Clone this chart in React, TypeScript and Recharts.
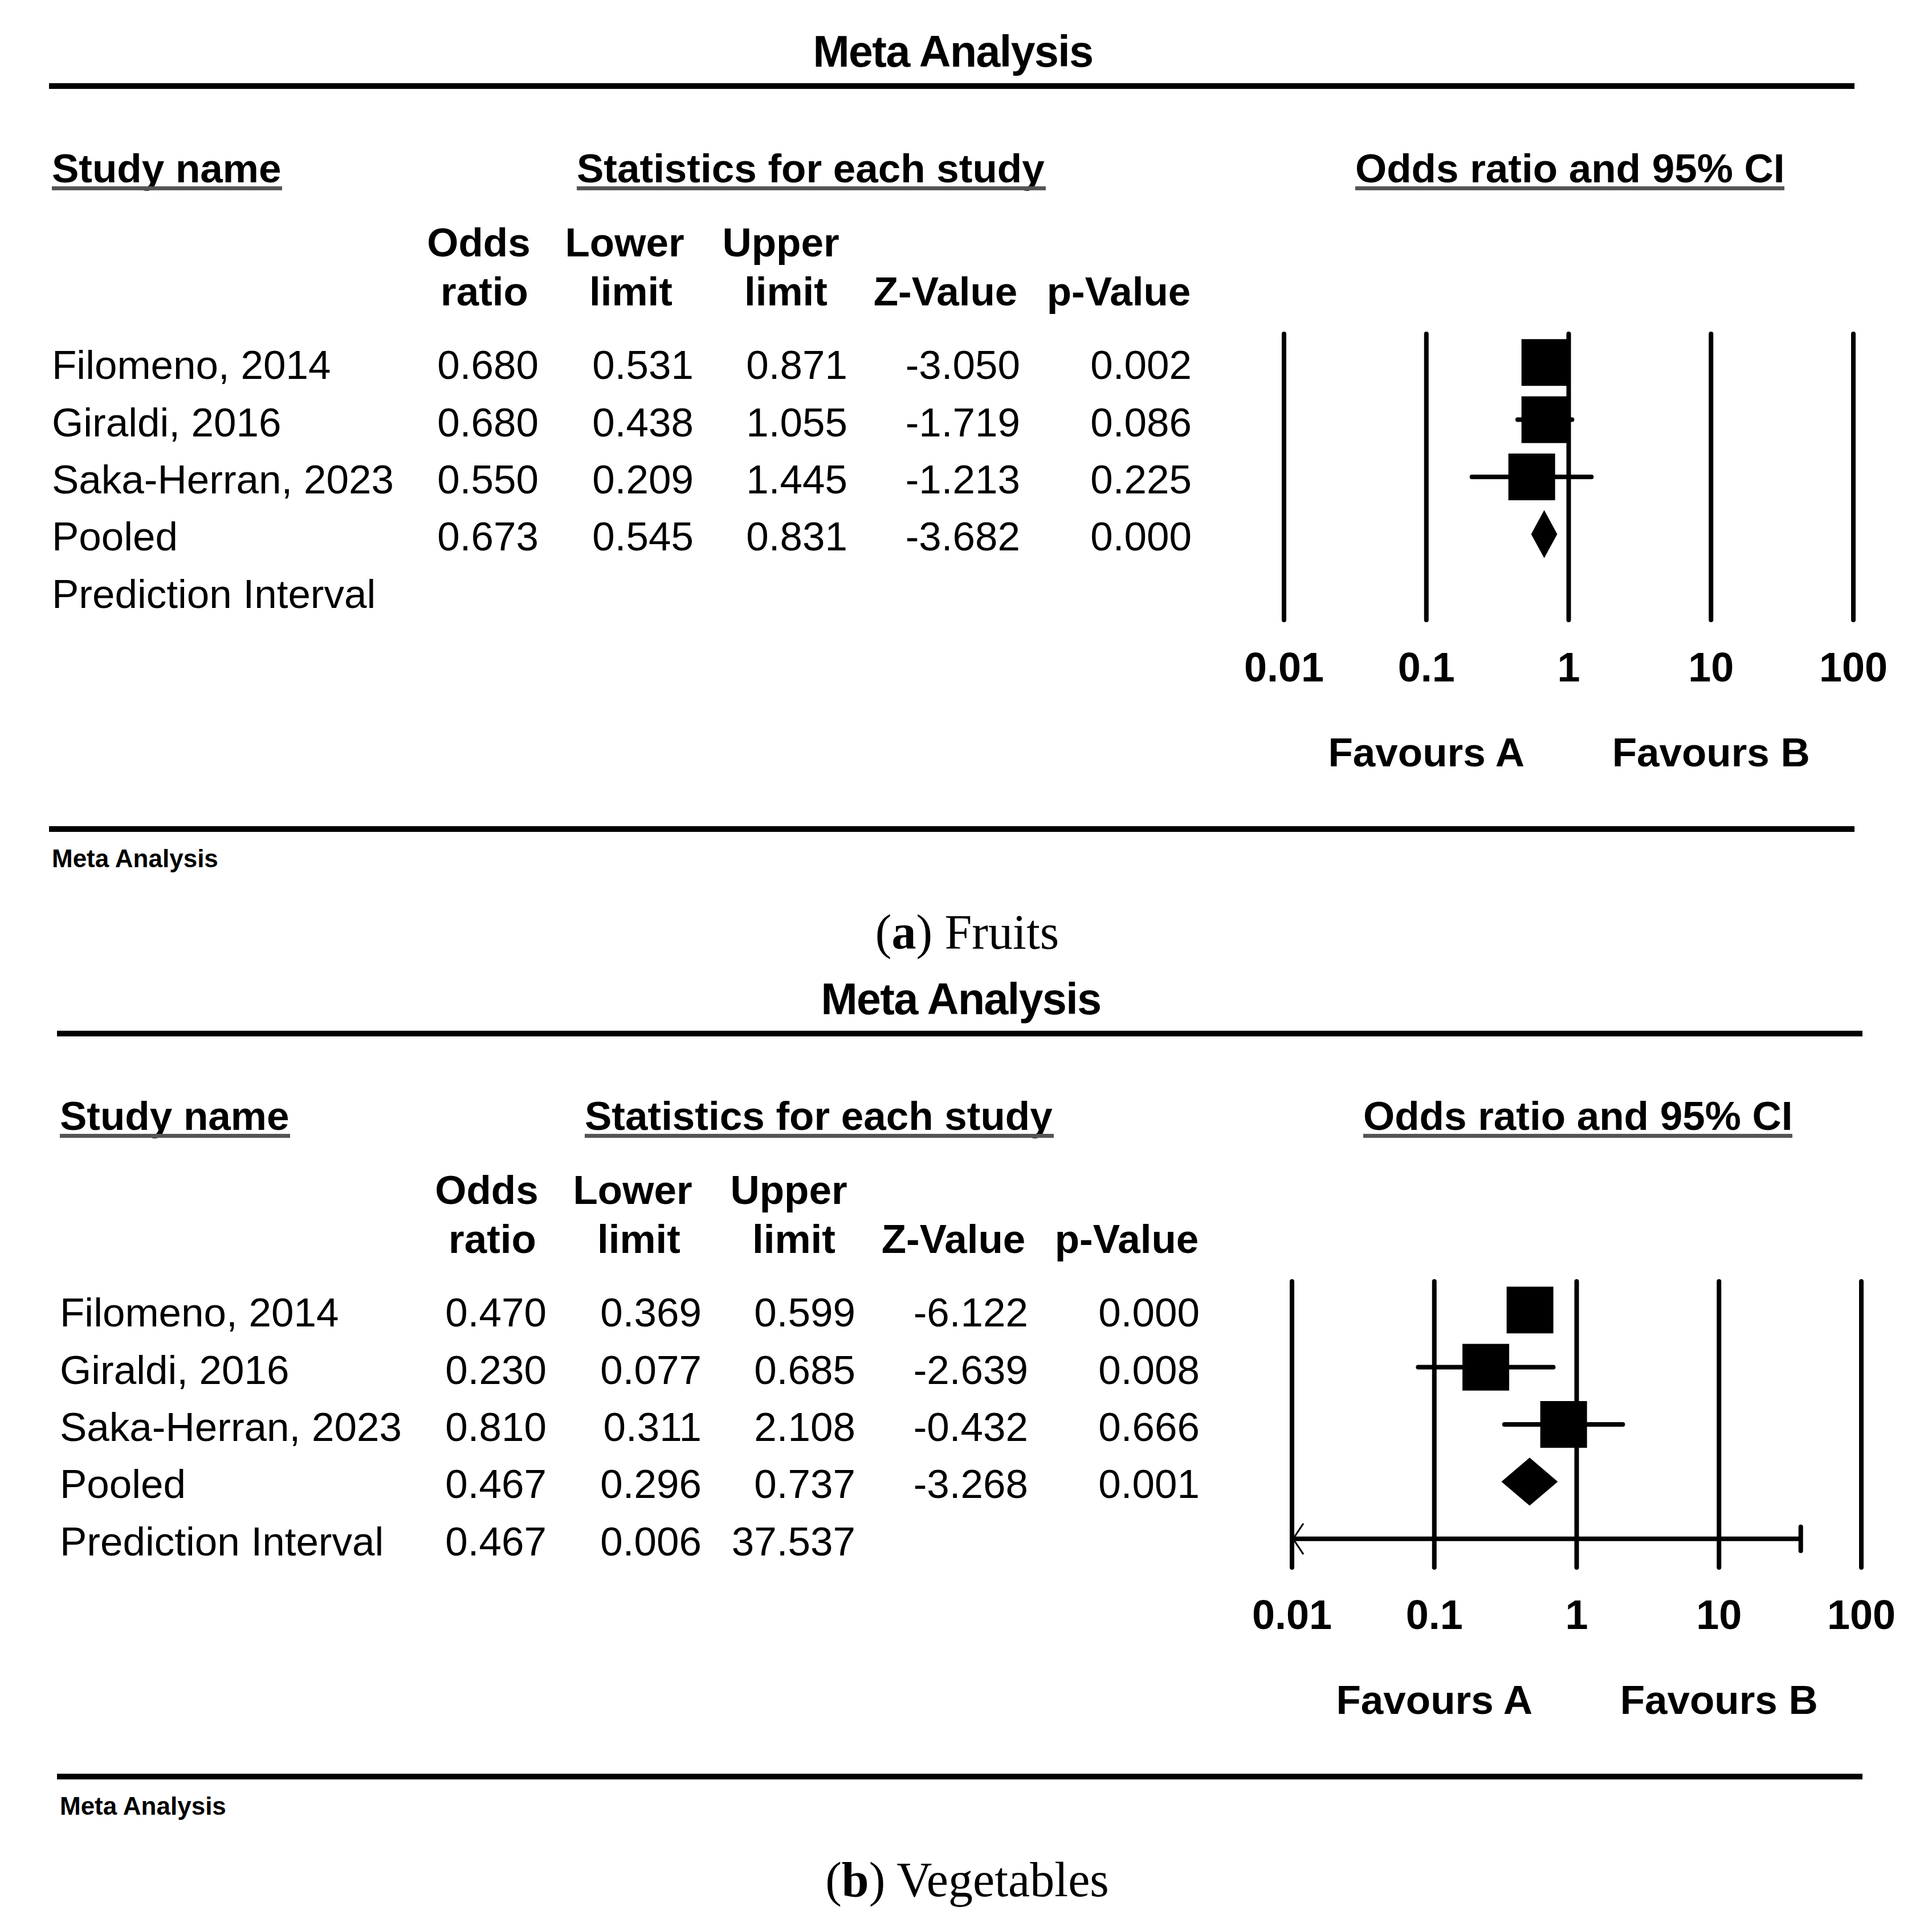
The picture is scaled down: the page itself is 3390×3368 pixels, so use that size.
import React from "react";
import {
  ComposedChart,
  Scatter,
  XAxis,
  YAxis,
  ReferenceLine,
  ReferenceArea,
} from "recharts";

// ---------------- data ----------------
const rowLabels = [
  "Filomeno, 2014",
  "Giraldi, 2016",
  "Saka-Herran, 2023",
  "Pooled",
  "Prediction Interval",
];

const fruitsOR = [0.68, 0.68, 0.55, 0.673];
const fruitsLower = [0.531, 0.438, 0.209, 0.545];
const fruitsUpper = [0.871, 1.055, 1.445, 0.831];
const fruitsZ = [-3.05, -1.719, -1.213, -3.682];
const fruitsP = [0.002, 0.086, 0.225, 0.0];
const fruitsPI: number[] = [];

const vegOR = [0.47, 0.23, 0.81, 0.467];
const vegLower = [0.369, 0.077, 0.311, 0.296];
const vegUpper = [0.599, 0.685, 2.108, 0.737];
const vegZ = [-6.122, -2.639, -0.432, -3.268];
const vegP = [0.0, 0.008, 0.666, 0.001];
const vegPI = [0.467, 0.006, 37.537]; // estimate, lower, upper

const axisTicks = [0.01, 0.1, 1, 10, 100];
const axisTickLabels = ["0.01", "0.1", "1", "10", "100"];
const favoursLabels: Record<string, string> = { "0.1": "Favours A", "10": "Favours B" };

const columnHeaders = [
  ["Odds", "ratio"],
  ["Lower", "limit"],
  ["Upper", "limit"],
  ["", "Z-Value"],
  ["", "p-Value"],
];

// ---------------- layout ----------------
const FONT = '"Liberation Sans", Arial, Helvetica, sans-serif';
const SERIF = '"Liberation Serif", "Times New Roman", serif';
const W = 3390;
const H = 1663;
const PLOT_TOP = 586;
const PLOT_BOTTOM = 1088;
const PLOT_LEFT = 2253;
const PLOT_RIGHT = 3252;
const XAXIS_H = 100;
const YAXIS_W = 10;
const VALUE_RIGHT = [945, 1217, 1487, 1790, 2091];
const HEADER_X = [
  [840, 850],
  [1096, 1107],
  [1370, 1379],
  [1659, 1659],
  [1963, 1963],
];
const SQUARE = 82;

type PanelProps = {
  top: number;
  dx: number;
  or: number[];
  lower: number[];
  upper: number[];
  z: number[];
  p: number[];
  pi: number[];
  captionLetter: string;
  captionText: string;
};

function Panel({ top, dx, or, lower, upper, z, p, pi, captionLetter, captionText }: PanelProps) {
  const tableRows: string[][] = or.map((v, i) => [
    v.toFixed(3),
    lower[i].toFixed(3),
    upper[i].toFixed(3),
    z[i].toFixed(3),
    p[i].toFixed(3),
  ]);
  tableRows.push(pi.map((v) => v.toFixed(3)));

  const studyPoints = or.slice(0, 3).map((v, i) => ({ x: v, y: i + 1 }));
  const pooledRow = 4;
  const domainMin = axisTicks[0];

  const RowTick = (props: any) => {
    const { y, payload } = props;
    const i = Math.round(payload.value) - 1;
    const cells = tableRows[i] || [];
    const by = y + 29;
    return (
      <g>
        <text x={91 + dx} y={by} fontSize={71} fontFamily={FONT} fill="#000">
          {rowLabels[i]}
        </text>
        {cells.map((c, j) => (
          <text
            key={j}
            x={VALUE_RIGHT[j] + dx}
            y={by}
            textAnchor="end"
            fontSize={71}
            fontFamily={FONT}
            fill="#000"
          >
            {c}
          </text>
        ))}
      </g>
    );
  };

  const AxisTick = (props: any) => {
    const { x, payload } = props;
    const idx = axisTicks.indexOf(payload.value);
    const label = axisTickLabels[idx];
    const fav = favoursLabels[label];
    return (
      <g>
        <text x={x} y={1196} textAnchor="middle" fontSize={72} fontWeight="bold" fontFamily={FONT} fill="#000">
          {label}
        </text>
        {fav ? (
          <text x={x} y={1345} textAnchor="middle" fontSize={71} fontWeight="bold" fontFamily={FONT} fill="#000">
            {fav}
          </text>
        ) : null}
      </g>
    );
  };

  const Square = (props: any) => {
    const { cx, cy } = props;
    return <rect x={cx - SQUARE / 2} y={cy - SQUARE / 2} width={SQUARE} height={SQUARE} fill="#000" />;
  };

  const Diamond = (props: any) => {
    const { x, y, width, height } = props;
    const mx = x + width / 2;
    const my = y + height / 2;
    return (
      <polygon
        points={`${x},${my} ${mx},${y} ${x + width},${my} ${mx},${y + height}`}
        fill="#000"
      />
    );
  };

  const makePIShape = (clipped: boolean) => (props: any) => {
    const { x1, y1, x2 } = props;
    const y = y1;
    return (
      <g>
        <line x1={x1} y1={y} x2={x2} y2={y} stroke="#000" strokeWidth={8} />
        <line x1={x2} y1={y - 21} x2={x2} y2={y + 21} stroke="#000" strokeWidth={8} strokeLinecap="round" />
        {clipped ? (
          <polyline
            points={`${x1 + 20},${y - 27} ${x1 + 2},${y} ${x1 + 20},${y + 27}`}
            fill="none"
            stroke="#000"
            strokeWidth={3}
          />
        ) : null}
      </g>
    );
  };

  const piLo = pi.length ? Math.max(pi[1], domainMin) : 0;
  const piClipped = pi.length ? pi[1] < domainMin : false;

  return (
    <div style={{ position: "absolute", left: 0, top, width: W, height: H }}>
      <ComposedChart
        width={W}
        height={H}
        margin={{
          top: PLOT_TOP,
          bottom: H - PLOT_BOTTOM - XAXIS_H,
          left: PLOT_LEFT + dx - YAXIS_W,
          right: W - PLOT_RIGHT - dx,
        }}
      >
        <XAxis
          dataKey="x"
          type="number"
          scale="log"
          domain={[0.01, 100]}
          ticks={axisTicks}
          interval={0}
          allowDataOverflow
          axisLine={false}
          tickLine={false}
          height={XAXIS_H}
          tick={AxisTick}
        />
        <YAxis
          dataKey="y"
          type="number"
          domain={[0.5, 5.5]}
          reversed
          ticks={[1, 2, 3, 4, 5]}
          interval={0}
          axisLine={false}
          tickLine={false}
          width={YAXIS_W}
          tick={RowTick}
        />
        {axisTicks.map((t) => (
          <ReferenceLine key={t} x={t} stroke="#000" strokeWidth={8} strokeLinecap="round" />
        ))}
        {or.slice(0, 3).map((_, i) => (
          <ReferenceLine
            key={"ci" + i}
            segment={[
              { x: lower[i], y: i + 1 },
              { x: upper[i], y: i + 1 },
            ]}
            stroke="#000"
            strokeWidth={8}
            strokeLinecap="round"
          />
        ))}
        <ReferenceArea
          x1={lower[3]}
          x2={upper[3]}
          y1={pooledRow - 0.42}
          y2={pooledRow + 0.42}
          shape={Diamond}
        />
        {pi.length ? (
          <ReferenceLine
            segment={[
              { x: piLo, y: 5 },
              { x: pi[2], y: 5 },
            ]}
            shape={makePIShape(piClipped)}
          />
        ) : null}
        <Scatter data={studyPoints} dataKey="y" shape={Square} isAnimationActive={false} />
      </ComposedChart>

      <svg
        width={W}
        height={H + 60}
        style={{ position: "absolute", left: 0, top: 0, pointerEvents: "none", overflow: "visible" }}
      >
        <g transform={`translate(${dx},0)`} fontFamily={FONT} fill="#000">
          <text x={1672} y={117} textAnchor="middle" fontSize={77} fontWeight="bold" letterSpacing={-1.5}>
            Meta Analysis
          </text>
          <rect x={86} y={146} width={3168} height={10} fill="#000" />

          <text x={91} y={320} fontSize={71} fontWeight="bold">Study name</text>
          <rect x={91} y={327} width={404} height={7} fill="#555" />
          <text x={1012} y={320} fontSize={71} fontWeight="bold">Statistics for each study</text>
          <rect x={1012} y={327} width={823} height={7} fill="#555" />
          <text x={2378} y={320} fontSize={71} fontWeight="bold">Odds ratio and 95% CI</text>
          <rect x={2378} y={327} width={753} height={7} fill="#555" />

          {columnHeaders.map((h, j) => (
            <g key={j}>
              {h[0] ? (
                <text x={HEADER_X[j][0]} y={450} textAnchor="middle" fontSize={71} fontWeight="bold">
                  {h[0]}
                </text>
              ) : null}
              <text x={HEADER_X[j][1]} y={536} textAnchor="middle" fontSize={71} fontWeight="bold">
                {h[1]}
              </text>
            </g>
          ))}

          <rect x={86} y={1450} width={3168} height={10} fill="#000" />
          <text x={91} y={1522} fontSize={44} fontWeight="bold">Meta Analysis</text>
        </g>
        <text x={1697} y={1665} textAnchor="middle" fontSize={86} fontFamily={SERIF} fill="#000">
          (<tspan fontWeight="bold">{captionLetter}</tspan>) {captionText}
        </text>
      </svg>
    </div>
  );
}

export default function App() {
  return (
    <div
      style={{
        position: "absolute",
        left: 0,
        top: 0,
        width: 3390,
        height: 3368,
        background: "#fff",
        overflow: "hidden",
      }}
    >
      <Panel
        top={0}
        dx={0}
        or={fruitsOR}
        lower={fruitsLower}
        upper={fruitsUpper}
        z={fruitsZ}
        p={fruitsP}
        pi={fruitsPI}
        captionLetter="a"
        captionText="Fruits"
      />
      <Panel
        top={1663}
        dx={14}
        or={vegOR}
        lower={vegLower}
        upper={vegUpper}
        z={vegZ}
        p={vegP}
        pi={vegPI}
        captionLetter="b"
        captionText="Vegetables"
      />
    </div>
  );
}
